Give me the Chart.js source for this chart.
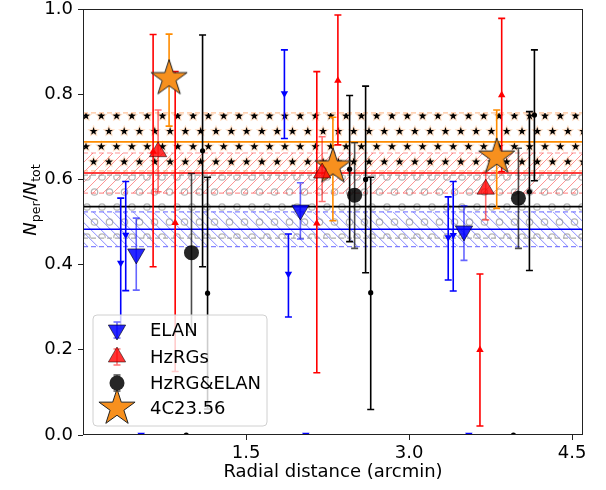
<!DOCTYPE html>
<html><head><meta charset="utf-8">
<script src="https://cdn.jsdelivr.net/npm/chart.js@4"></script>
<style>html,body{margin:0;padding:0;background:#fff}#wrap{width:606px;height:490px}</style>
</head><body><div id="wrap"><canvas id="c" width="606" height="490"></canvas></div>
<script>
// ---------- data ----------
const xTicks = [1.5, 3.0, 4.5];
const yTicks = [0.0, 0.2, 0.4, 0.6, 0.8, 1.0];

// ELAN (individual)
const elanX  = [0.347, 0.393, 1.853, 1.890, 3.360, 3.406];
const elanY  = [0.404, 0.470, 0.802, 0.378, 0.464, 0.469];
const elanLo = [0.250, 0.339, 0.696, 0.277, 0.364, 0.338];
const elanHi = [0.556, 0.595, 0.904, 0.472, 0.559, 0.595];
const elanZeroX = [0.535, 2.050, 3.550];
// ELAN (binned)
const elanMeanX  = [0.490, 2.000, 3.505];
const elanMeanY  = [0.425, 0.528, 0.479];
const elanMeanLo = [0.340, 0.460, 0.410];
const elanMeanHi = [0.509, 0.592, 0.538];

// HzRGs (individual)
const hzX  = [0.645, 0.848, 2.151, 2.345, 3.652, 3.852];
const hzY  = [0.665, 0.498, 0.497, 0.832, 0.200, 0.798];
const hzLo = [0.395, 0.149, 0.146, 0.681, 0.021, 0.618];
const hzHi = [0.940, 0.853, 0.853, 0.986, 0.378, 0.978];
// HzRGs (binned)
const hzMeanX  = [0.691, 2.200, 3.705];
const hzMeanY  = [0.665, 0.615, 0.577];
const hzMeanLo = [0.571, 0.548, 0.505];
const hzMeanHi = [0.763, 0.700, 0.616];

// HzRG&ELAN (individual)
const bothX  = [1.100, 1.146, 2.453, 2.600, 2.647, 4.107, 4.153];
const bothY  = [0.667, 0.333, 0.624, 0.600, 0.334, 0.571, 0.751];
const bothLo = [0.395, 0.061, 0.454, 0.381, 0.060, 0.386, 0.597];
const bothHi = [0.939, 0.605, 0.797, 0.819, 0.605, 0.759, 0.904];
const bothZeroX = [0.950, 3.960];
// HzRG&ELAN (binned)
const bothMeanX  = [0.998, 2.499, 4.006];
const bothMeanY  = [0.428, 0.563, 0.556];
const bothMeanLo = [0.242, 0.438, 0.438];
const bothMeanHi = [0.614, 0.686, 0.673];

// 4C23.56
const starX  = [0.792, 2.299, 3.806];
const starY  = [0.837, 0.630, 0.653];
const starLo = [0.725, 0.503, 0.532];
const starHi = [0.941, 0.746, 0.763];

// horizontal mean levels and their ranges: 4C23.56, HzRGs, HzRG&ELAN, ELAN
const bandMid = [0.688, 0.615, 0.536, 0.483];
const bandLo  = [0.620, 0.568, 0.462, 0.442];
const bandHi  = [0.756, 0.662, 0.610, 0.524];

const legendLabels = ['ELAN', 'HzRGs', 'HzRG&ELAN', '4C23.56'];

// ---------- helpers ----------
const FONT = '"DejaVu Sans", sans-serif';
const pts = (xs, ys) => xs.map((x, i) => ({x: x, y: ys[i]}));

function starPath(g, cx, cy, R, r) {
  g.beginPath();
  for (let i = 0; i < 10; i++) {
    const a = -Math.PI / 2 + i * Math.PI / 5;
    const rr = i % 2 ? r : R;
    const px = cx + rr * Math.cos(a), py = cy + rr * Math.sin(a);
    i ? g.lineTo(px, py) : g.moveTo(px, py);
  }
  g.closePath();
}
function makeStar(R, fill, stroke) {
  const c = document.createElement('canvas');
  const s = Math.ceil(2 * R + 4);
  c.width = c.height = s;
  const g = c.getContext('2d');
  starPath(g, s / 2, s / 2, R, R * 0.382);
  g.fillStyle = fill; g.fill();
  g.lineWidth = 1; g.strokeStyle = stroke; g.stroke();
  return c;
}
const starImg = makeStar(19, '#f7901e', '#222');

const errGroups = [
  {x: elanX, lo: elanLo, hi: elanHi, color: '#0000ff'},
  {x: hzX, lo: hzLo, hi: hzHi, color: '#ff0000'},
  {x: bothX, lo: bothLo, hi: bothHi, color: '#000000'},
  {x: elanMeanX, lo: elanMeanLo, hi: elanMeanHi, color: 'rgba(0,0,255,0.6)'},
  {x: hzMeanX, lo: hzMeanLo, hi: hzMeanHi, color: 'rgba(255,0,0,0.55)'},
  {x: bothMeanX, lo: bothMeanLo, hi: bothMeanHi, color: 'rgba(0,0,0,0.7)'},
  {x: starX, lo: starLo, hi: starHi, color: '#ff8c00'}
];

function drawErr(g, x, y0, y1, color) {
  g.strokeStyle = color; g.lineWidth = 1.6;
  g.beginPath();
  g.moveTo(x, y0); g.lineTo(x, y1);
  g.moveTo(x - 3.5, y0); g.lineTo(x + 3.5, y0);
  g.moveTo(x - 3.5, y1); g.lineTo(x + 3.5, y1);
  g.stroke();
}

const bandsPlugin = {
  id: 'bands',
  beforeDatasetsDraw(chart) {
    const g = chart.ctx, a = chart.chartArea;
    const ys = chart.scales.y, xs = chart.scales.x;
    const L = a.left, R = a.right, W = R - L;
    const py = v => ys.getPixelForValue(v);
    g.save();
    g.beginPath(); g.rect(L, a.top, W, a.bottom - a.top); g.clip();

    function clipBand(i, fn) {
      g.save();
      const t = py(bandHi[i]), b = py(bandLo[i]);
      g.beginPath(); g.rect(L, t, W, b - t); g.clip();
      fn(t, b);
      g.restore();
    }
    // ELAN band: backslash hatch
    clipBand(3, (t, b) => {
      g.strokeStyle = 'rgba(40,40,255,0.55)'; g.lineWidth = 1;
      g.beginPath();
      for (let x0 = L - 60; x0 < R + 60; x0 += 10) { g.moveTo(x0, t); g.lineTo(x0 + (b - t), b); }
      g.stroke();
    });
    // HzRGs band: slash hatch
    clipBand(1, (t, b) => {
      g.strokeStyle = 'rgba(255,40,40,0.5)'; g.lineWidth = 1;
      g.beginPath();
      for (let x0 = L - 60; x0 < R + 60; x0 += 10) { g.moveTo(x0, b); g.lineTo(x0 + (b - t), t); }
      g.stroke();
    });
    // HzRG&ELAN band: circle hatch
    clipBand(2, (t, b) => {
      g.strokeStyle = 'rgba(150,150,150,0.7)'; g.lineWidth = 1.2;
      let row = 0;
      for (let y = 177 - 15 * 6; y < b + 10; y += 15, row++) {
        if (y < t - 10) continue;
        const off = (row % 2) ? 7.5 : 0;
        for (let x = L + 4 + off - 15; x < R + 10; x += 15) {
          g.beginPath(); g.arc(x, y, 3.2, 0, Math.PI * 2); g.stroke();
        }
      }
    });
    // 4C23.56 band: star hatch
    clipBand(0, (t, b) => {
      let row = 0;
      for (let y = 116 - 15.3 * 4; y < b + 10; y += 15.3, row++) {
        if (y < t - 10) continue;
        const off = (row % 2) ? 7.6 : 0;
        for (let x = L + 3 + off - 15.3; x < R + 10; x += 15.3) {
          starPath(g, x, y, 6.5, 3.2); g.fillStyle = 'rgba(255,170,100,0.35)'; g.fill();
          starPath(g, x, y, 4.2, 1.7); g.fillStyle = '#000'; g.fill();
        }
      }
    });
    // dashed edges
    const edgeCols = ['rgba(255,170,110,0.7)', 'rgba(255,80,80,0.6)', 'rgba(150,150,150,0.8)', 'rgba(80,80,255,0.7)'];
    g.setLineDash([5, 3]); g.lineWidth = 1.2;
    for (let i = 0; i < 4; i++) {
      g.strokeStyle = edgeCols[i];
      [bandLo[i], bandHi[i]].forEach(v => {
        g.beginPath(); g.moveTo(L, py(v)); g.lineTo(R, py(v)); g.stroke();
      });
    }
    g.setLineDash([]);
    // mean lines
    const midCols = ['#ff8c00', '#ff0000', '#000000', '#0000ff'];
    g.lineWidth = 1.6;
    for (let i = 0; i < 4; i++) {
      g.strokeStyle = midCols[i];
      g.beginPath(); g.moveTo(L, py(bandMid[i])); g.lineTo(R, py(bandMid[i])); g.stroke();
    }
    // error bars
    errGroups.forEach(gr => {
      gr.x.forEach((xv, i) => drawErr(g, xs.getPixelForValue(xv), py(gr.lo[i]), py(gr.hi[i]), gr.color));
    });
    g.restore();
  },
  afterDraw(chart) {
    const g = chart.ctx, a = chart.chartArea;
    g.save();
    // frame
    g.strokeStyle = '#222'; g.lineWidth = 1;
    g.strokeRect(a.left + 0.5, a.top + 0.5, a.right - a.left - 1, a.bottom - a.top - 1);

    // legend
    const bx = 93, by = 315, bw = 174, bh = 111, rad = 4;
    g.beginPath();
    g.moveTo(bx + rad, by); g.lineTo(bx + bw - rad, by); g.arcTo(bx + bw, by, bx + bw, by + rad, rad);
    g.lineTo(bx + bw, by + bh - rad); g.arcTo(bx + bw, by + bh, bx + bw - rad, by + bh, rad);
    g.lineTo(bx + rad, by + bh); g.arcTo(bx, by + bh, bx, by + bh - rad, rad);
    g.lineTo(bx, by + rad); g.arcTo(bx, by, bx + rad, by, rad); g.closePath();
    g.fillStyle = 'rgba(255,255,255,0.8)'; g.fill();
    g.strokeStyle = '#d0d0d0'; g.lineWidth = 1; g.stroke();

    const mx = 117, rows = [330, 357, 383, 408];
    drawErr(g, mx, rows[0] - 8, rows[0] + 8, 'rgba(0,0,255,0.6)');
    tri(g, mx, rows[0], 10, true, 'rgba(0,0,255,0.85)', 'rgba(0,0,0,0.6)');
    drawErr(g, mx, rows[1] - 8, rows[1] + 8, 'rgba(255,0,0,0.55)');
    tri(g, mx, rows[1], 10, false, 'rgba(255,0,0,0.8)', 'rgba(0,0,0,0.5)');
    drawErr(g, mx, rows[2] - 8, rows[2] + 8, 'rgba(0,0,0,0.7)');
    g.beginPath(); g.arc(mx, rows[2], 7.5, 0, Math.PI * 2); g.fillStyle = '#262626'; g.fill();
    g.drawImage(starImg, mx - starImg.width / 2, rows[3] - starImg.height / 2);

    g.fillStyle = '#000'; g.font = '18px ' + FONT; g.textBaseline = 'middle'; g.textAlign = 'left';
    legendLabels.forEach((t, i) => g.fillText(t, 150, rows[i] + 1));

    // x title
    g.textAlign = 'center';
    g.fillText('Radial distance (arcmin)', (a.left + a.right) / 2, 472);

    // y title: N_per / N_tot
    g.translate(30, 200);
    g.rotate(-Math.PI / 2);
    const parts = [
      {t: 'N', f: 'italic 18px ' + FONT, dy: 0},
      {t: 'per', f: '12.6px ' + FONT, dy: 4},
      {t: '/', f: '18px ' + FONT, dy: 0},
      {t: 'N', f: 'italic 18px ' + FONT, dy: 0},
      {t: 'tot', f: '12.6px ' + FONT, dy: 4}
    ];
    let total = 0;
    parts.forEach(p => { g.font = p.f; p.w = g.measureText(p.t).width; total += p.w; });
    let cx = -total / 2;
    g.textAlign = 'left'; g.textBaseline = 'alphabetic';
    parts.forEach(p => { g.font = p.f; g.fillText(p.t, cx, 6 + p.dy); cx += p.w; });
    g.restore();
  }
};

function tri(g, x, y, r, down, fill, stroke) {
  const s = down ? -1 : 1;
  g.beginPath();
  g.moveTo(x, y - s * r);
  g.lineTo(x + r * 0.866, y + s * r / 2);
  g.lineTo(x - r * 0.866, y + s * r / 2);
  g.closePath();
  g.fillStyle = fill; g.fill();
  g.lineWidth = 1; g.strokeStyle = stroke; g.stroke();
}

const chart = new Chart(document.getElementById('c'), {
  type: 'scatter',
  data: {
    datasets: [
      {label: 'ELAN pts', data: pts(elanX, elanY), pointStyle: 'triangle', rotation: 180, pointRadius: 4.3,
       backgroundColor: '#0000ff', borderColor: '#0000ff', borderWidth: 0},
      {label: 'ELAN zero', data: pts(elanZeroX, elanZeroX.map(() => 0)), pointStyle: 'triangle', rotation: 180, pointRadius: 4.3,
       backgroundColor: '#0000ff', borderColor: '#0000ff', borderWidth: 0, clip: 0},
      {label: 'HzRG pts', data: pts(hzX, hzY), pointStyle: 'triangle', pointRadius: 4.3,
       backgroundColor: '#ff0000', borderColor: '#ff0000', borderWidth: 0},
      {label: 'Both pts', data: pts(bothX, bothY), pointStyle: 'circle', pointRadius: 2.6,
       backgroundColor: '#000', borderColor: '#000', borderWidth: 0},
      {label: 'Both zero', data: pts(bothZeroX, bothZeroX.map(() => 0)), pointStyle: 'circle', pointRadius: 2.6,
       backgroundColor: '#000', borderColor: '#000', borderWidth: 0, clip: 0},
      {label: 'ELAN', data: pts(elanMeanX, elanMeanY), pointStyle: 'triangle', rotation: 180, pointRadius: 10,
       backgroundColor: 'rgba(0,0,255,0.85)', borderColor: 'rgba(0,0,0,0.6)', borderWidth: 1},
      {label: 'HzRGs', data: pts(hzMeanX, hzMeanY), pointStyle: 'triangle', pointRadius: 10,
       backgroundColor: 'rgba(255,0,0,0.8)', borderColor: 'rgba(0,0,0,0.5)', borderWidth: 1},
      {label: 'HzRG&ELAN', data: pts(bothMeanX, bothMeanY), pointStyle: 'circle', pointRadius: 7.5,
       backgroundColor: 'rgba(0,0,0,0.85)', borderColor: 'rgba(0,0,0,0.85)', borderWidth: 0},
      {label: '4C23.56', data: pts(starX, starY), pointStyle: starImg, pointRadius: 19}
    ]
  },
  options: {
    responsive: false, animation: false, devicePixelRatio: 1,
    layout: {autoPadding: false, padding: {top: 9, right: 23, left: 0, bottom: 0}},
    plugins: {legend: {display: false}, tooltip: {enabled: false}},
    scales: {
      x: {
        type: 'linear', min: 0, max: 4.6,
        afterBuildTicks: s => { s.ticks = xTicks.map(v => ({value: v})); },
        afterFit: s => { s.height = 55; s.paddingLeft = 0; s.paddingRight = 0; },
        ticks: {callback: v => Number(v).toFixed(1), color: '#000', font: {family: FONT, size: 18}, padding: 3, maxRotation: 0, autoSkip: false},
        grid: {drawOnChartArea: false, tickLength: 5, color: '#222', tickWidth: 1},
        border: {display: false}
      },
      y: {
        type: 'linear', min: 0, max: 1,
        afterBuildTicks: s => { s.ticks = yTicks.map(v => ({value: v})); },
        afterFit: s => { s.width = 83; s.paddingTop = 0; s.paddingBottom = 0; },
        ticks: {callback: v => Number(v).toFixed(1), color: '#000', font: {family: FONT, size: 18}, padding: 5, autoSkip: false},
        grid: {drawOnChartArea: false, tickLength: 5, color: '#222', tickWidth: 1},
        border: {display: false}
      }
    }
  },
  plugins: [bandsPlugin]
});
</script>
</body></html>
